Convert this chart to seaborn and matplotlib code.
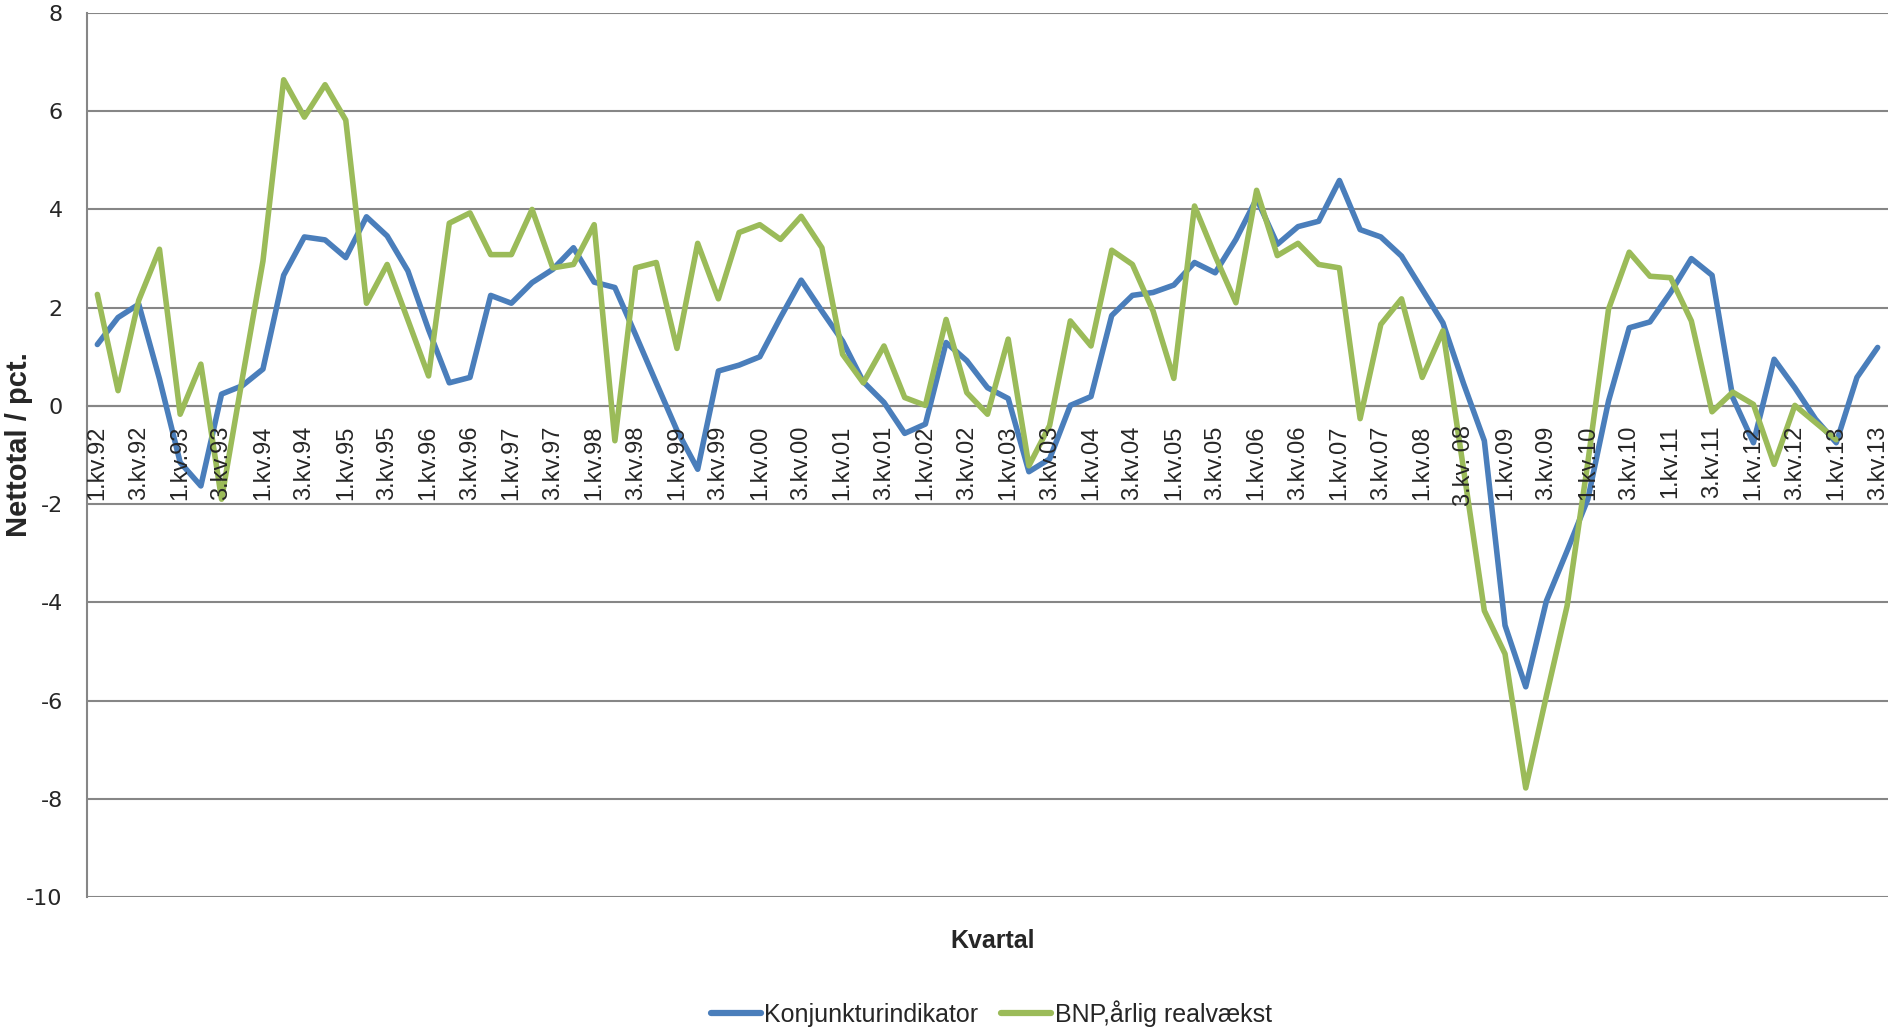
import numpy as np
import pandas as pd
import matplotlib.pyplot as plt
import seaborn as sns
from matplotlib.ticker import MultipleLocator, FixedLocator

# DATA (one value per quarter from 1.kv.92)
konjunktur = [1.25, 1.80, 2.07, 0.55, -1.15, -1.63, 0.24, 0.41, 0.75, 2.66,
              3.44, 3.38, 3.02, 3.85, 3.46, 2.75, 1.55, 0.47, 0.58, 2.25,
              2.09, 2.51, 2.78, 3.22, 2.52, 2.41, 1.45, 0.47, -0.50, -1.29,
              0.71, 0.83, 1.00, 1.80, 2.56, 1.93, 1.32, 0.49, 0.07, -0.56,
              -0.37, 1.29, 0.92, 0.37, 0.15, -1.34, -1.08, 0.01, 0.19, 1.84,
              2.25, 2.31, 2.46, 2.92, 2.71, 3.39, 4.22, 3.29, 3.65, 3.76,
              4.59, 3.59, 3.44, 3.05, 2.37, 1.69, 0.45, -0.71, -4.47, -5.72,
              -3.97, -2.95, -1.90, 0.10, 1.59, 1.71, 2.31, 3.00, 2.66, 0.17,
              -0.75, 0.95, 0.37, -0.27, -0.75, 0.58, 1.19]
bnp = [2.27, 0.31, 2.15, 3.19, -0.17, 0.85, -1.90, 0.55, 2.95, 6.64,
       5.88, 6.54, 5.82, 2.09, 2.88, 1.75, 0.61, 3.72, 3.93, 3.08,
       3.08, 4.00, 2.81, 2.88, 3.69, -0.71, 2.81, 2.92, 1.17, 3.31,
       2.18, 3.53, 3.69, 3.39, 3.86, 3.22, 1.05, 0.47, 1.22, 0.17,
       0.01, 1.76, 0.27, -0.17, 1.36, -1.22, -0.40, 1.73, 1.22, 3.17,
       2.88, 1.93, 0.56, 4.07, 3.05, 2.10, 4.39, 3.06, 3.31, 2.88,
       2.81, -0.26, 1.66, 2.18, 0.58, 1.53, -1.30, -4.17, -5.05, -7.78,
       -5.90, -4.07, -1.15, 1.97, 3.13, 2.64, 2.61, 1.73, -0.12, 0.28,
       0.03, -1.19, 0.01, -0.34, -0.69]
# every second quarter is labelled on the axis
tick_labels = ['1.kv.92', '3.kv.92', '1.kv.93', '3.kv.93', '1.kv.94', '3.kv.94',
               '1.kv.95', '3.kv.95', '1.kv.96', '3.kv.96', '1.kv.97', '3.kv.97',
               '1.kv.98', '3.kv.98', '1.kv.99', '3.kv.99', '1.kv.00', '3.kv.00',
               '1.kv.01', '3.kv.01', '1.kv.02', '3.kv.02', '1.kv.03', '3.kv.03',
               '1.kv.04', '3.kv.04', '1.kv.05', '3.kv.05', '1.kv.06', '3.kv.06',
               '1.kv.07', '3.kv.07', '1.kv.08', '3.kv. 08', '1.kv.09', '3.kv.09',
               '1.kv.10', '3.kv.10', '1.kv.11', '3.kv.11', '1.kv.12', '3.kv.12',
               '1.kv.13', '3.kv.13']
series_names = ['Konjunkturindikator', 'BNP,årlig realvækst']

# PLOTTING
sns.set_style('white')
plt.rcParams['font.family'] = ['Liberation Sans', 'DejaVu Sans']
plt.rcParams['axes.unicode_minus'] = False

blue = '#4A7EBB'
green = '#9BBB59'
grey = '#868686'

n = len(konjunktur)
quarter = np.arange(n)

fig = plt.figure(figsize=(18.88, 10.31), dpi=100)
ax = fig.add_axes([87 / 1888, 1 - 897 / 1031, (1888 - 87) / 1888, (897 - 13) / 1031])

sns.lineplot(x=quarter, y=konjunktur, ax=ax, color=blue, linewidth=4,
             label=series_names[0], zorder=3)
sns.lineplot(x=quarter[:len(bnp)], y=bnp, ax=ax, color=green, linewidth=4,
             label=series_names[1], zorder=3)

ax.set_xlim(-0.5, n - 0.5)
ax.set_ylim(-10, 8)
ax.yaxis.set_major_locator(MultipleLocator(2))
ax.yaxis.grid(True, color=grey, linewidth=1.5)
ax.set_axisbelow(True)

# category axis crossing at zero, labels every 2nd quarter
ax.spines['bottom'].set_position(('data', 0))
ax.spines['top'].set_visible(False)
ax.spines['right'].set_visible(False)
for s in ['bottom', 'left']:
    ax.spines[s].set_color(grey)
    ax.spines[s].set_linewidth(1.5)

ax.xaxis.set_major_locator(FixedLocator(quarter[::2]))
ax.set_xticklabels(tick_labels, rotation=90, fontsize=17)
ax.xaxis.set_minor_locator(FixedLocator(np.arange(n + 1) - 0.5))
ax.tick_params(axis='x', which='major', length=0, pad=14)
ax.tick_params(axis='x', which='minor', length=5, width=1.5, color=grey, direction='out')
ax.tick_params(axis='y', length=6.5, width=1.5, color=grey, direction='out', pad=11,
               labelsize=16, labelfontfamily='DejaVu Sans')
ax.xaxis.set_zorder(4)
ax.set_xlabel('')
ax.set_ylabel('')

ax.legend_.remove()
handles, labels = ax.get_legend_handles_labels()
leg = fig.legend(handles, labels, loc='center', bbox_to_anchor=(0.525, 0.017), ncol=2,
                 frameon=False, fontsize=18, handlelength=2.0, handletextpad=0.15,
                 columnspacing=0.9)
for h in leg.get_lines():
    h.set_linewidth(4.5)

fig.text(0.526, 1 - 941 / 1031, 'Kvartal', ha='center', va='center',
         fontsize=18, fontweight='bold')
fig.text(0.010, 1 - 445 / 1031, 'Nettotal / pct.', ha='center', va='center',
         rotation=90, fontsize=21, fontweight='bold')

fig.savefig('out.png', dpi=100)
